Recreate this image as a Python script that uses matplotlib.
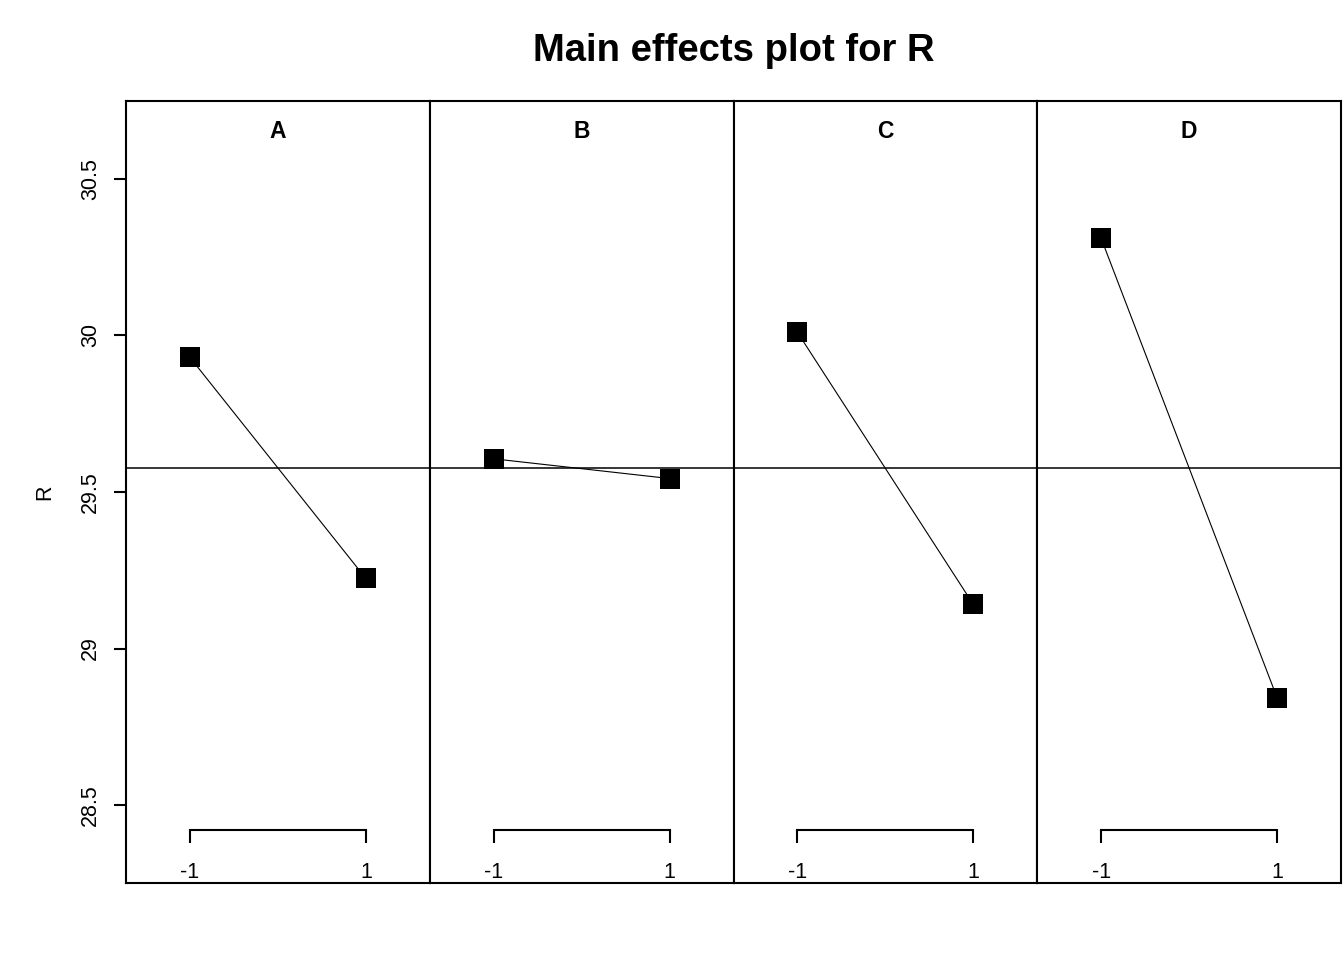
import matplotlib
matplotlib.use("Agg")
import matplotlib.pyplot as plt

plt.rcParams['font.family'] = ['Liberation Sans', 'DejaVu Sans']

# factor levels and mean response at each level
levels = [-1, 1]
factors = ["A", "B", "C", "D"]
mean_A = [29.93, 29.224]
mean_B = [29.606, 29.543]
mean_C = [30.01, 29.141]
mean_D = [30.31, 28.843]
grand_mean = 29.577
yticks = [28.5, 29, 29.5, 30, 30.5]
ytick_labels = ["28.5", "29", "29.5", "30", "30.5"]

means = [mean_A, mean_B, mean_C, mean_D]

fig, axes = plt.subplots(1, 4, sharey=True, figsize=(13.44, 9.6), dpi=100)
fig.subplots_adjust(left=126/1344, right=1341/1344, bottom=1-883/960,
                    top=1-101/960, wspace=0)

for i, ax in enumerate(axes):
    ax.axhline(grand_mean, color="black", lw=1.1)
    ax.plot(levels, means[i], color="black", lw=0.8)
    ax.plot(levels, means[i], "s", color="black", ms=14, mew=0)
    ax.set_xlim(-1.727, 1.727)
    ax.set_ylim(28.251, 30.749)
    ax.text(0.5, 0.9615, factors[i], transform=ax.transAxes, ha="center",
            va="center", fontsize=16.5, fontweight="bold")
    for s in ax.spines.values():
        s.set_linewidth(1.5)
    ax.tick_params(axis="x", bottom=False, labelbottom=False)
    ax.tick_params(axis="y", left=(i == 0), labelleft=(i == 0))

    # inner level axis like R's bracket
    sec = ax.secondary_xaxis(0.0678)
    sec.set_xticks(levels)
    sec.set_xticklabels(["-1", "1"])
    sec.spines["bottom"].set_bounds(-1, 1)
    sec.spines["bottom"].set_linewidth(1.5)
    sec.tick_params(axis="x", direction="out", length=9.5, width=1.5,
                    pad=13.5, labelsize=15.5)

ax0 = axes[0]
ax0.set_yticks(yticks)
ax0.set_yticklabels(ytick_labels)
ax0.tick_params(axis="y", direction="out", length=9, width=1.5, pad=9,
                labelsize=15.5, labelrotation=90)
for lab in ax0.get_yticklabels():
    lab.set_verticalalignment("center")
ax0.set_ylabel("R", fontsize=15.5, labelpad=18)

fig.text(733.5/1344, 1-51/960, "Main effects plot for R", ha="center",
         va="center", fontsize=27.5, fontweight="bold")

fig.savefig("out.png", dpi=100)
